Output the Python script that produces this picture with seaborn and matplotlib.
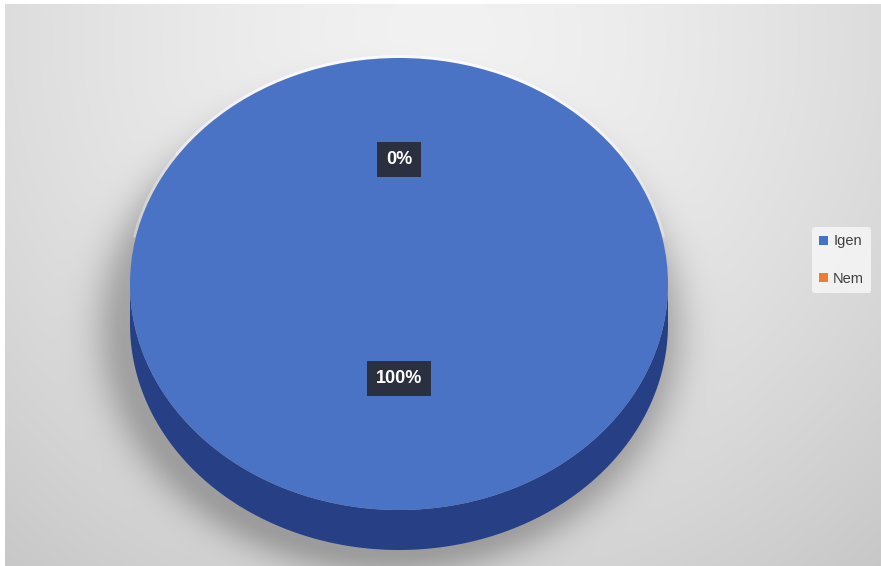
import numpy as np
import matplotlib
matplotlib.use("Agg")
import matplotlib.pyplot as plt
import seaborn as sns
from matplotlib.patches import Polygon, Arc

sns.set_theme(style="white")
plt.rcParams["font.family"] = ["Liberation Sans", "DejaVu Sans"]

# Survey answers
categories = ["Igen", "Nem"]
values = [100, 0]
colors = ["#4a73c5", "#ed7d31"]
legend_colors = ["#4472c4", "#ed7d31"]

W, H = 881, 566
fig = plt.figure(figsize=(W / 100, H / 100), dpi=100)

# Canvas axes in pixel units (y pointing down)
ax = fig.add_axes([0, 0, 1, 1])
ax.set_xlim(0, W)
ax.set_ylim(H, 0)
ax.axis("off")

# Pie geometry (pixels)
cx, cy, ra, rb, depth = 399, 284, 269, 226, 40

# Soft grey radial background with a drop shadow under the disc
yy, xx = np.mgrid[0:H, 0:W].astype(float)
r = np.hypot(xx - 440, yy - 40)
bg = 242 - 0.00237 * r ** 1.5
d = np.hypot((xx - 390) / (ra + 6), (yy - (cy + depth + 4)) / (rb + 6))
shadow = 58 * np.exp(-(np.clip(d - 0.96, 0, None) / 0.12) ** 2)
bg = bg - shadow
bg[:4, :] = 255
bg[:, :5] = 255
img = np.clip(np.dstack([bg, bg, bg]) / 255.0, 0, 1)
ax.imshow(img, extent=(0, W, H, 0), interpolation="bilinear", zorder=0)

# Light halo along the upper rim, fading towards the sides
for span, alpha in [(40, 0.35), (30, 0.35), (20, 0.35)]:
    ax.add_patch(Arc((cx, cy), 2 * ra + 3, 2 * rb + 3,
                     theta1=270 - span * 2, theta2=270 + span * 2,
                     edgecolor="white", lw=2.0, alpha=alpha, zorder=1))

# Side wall of the disc
t = np.linspace(0, np.pi, 200)
top_x = cx + ra * np.cos(t)
top_y = cy + rb * np.sin(t)
wall = np.column_stack([np.r_[top_x, top_x[::-1]],
                        np.r_[top_y, top_y[::-1] + depth]])
ax.add_patch(Polygon(wall, closed=True, facecolor="#263f85",
                     edgecolor="none", zorder=2))

# Top face drawn as a pie in its own stretched axes
pax = fig.add_axes([(cx - ra) / W, 1 - (cy + rb) / H, 2 * ra / W, 2 * rb / H])
wedges, _ = pax.pie(values, colors=colors, startangle=90, counterclock=False,
                    radius=1.0, wedgeprops=dict(linewidth=0))
pax.set_aspect("auto")
pax.set_xlim(-1, 1)
pax.set_ylim(-1, 1)
pax.axis("off")
pax.patch.set_alpha(0)

# Percentage labels at each slice's mid angle
total = sum(values)
label_dist = [0.42, 0.55]
start = 90.0
for v, dist in zip(values, label_dist):
    sweep = 360.0 * v / total
    mid = np.deg2rad(start - sweep / 2)
    start -= sweep
    pax.text(dist * np.cos(mid), dist * np.sin(mid), f"{v / total:.0%}",
             ha="center", va="center", color="white", fontsize=13,
             fontweight="bold",
             bbox=dict(boxstyle="square,pad=0.5", facecolor="#2b3040",
                       edgecolor="none"))

# Legend
handles = [plt.Rectangle((0, 0), 1, 1, facecolor=c, edgecolor="none")
           for c in legend_colors]
leg = fig.legend(handles, categories, loc="upper left",
                 bbox_to_anchor=(812 / W, 1 - 227 / H), frameon=True,
                 fontsize=10.5, handlelength=0.6, handleheight=0.6,
                 handletextpad=0.35, labelspacing=1.6, borderpad=0.5,
                 borderaxespad=0)
leg.get_frame().set_facecolor("#f8f8f8")
leg.get_frame().set_edgecolor("none")
for txt in leg.get_texts():
    txt.set_color("#404040")

fig.savefig("out.png", dpi=100)
